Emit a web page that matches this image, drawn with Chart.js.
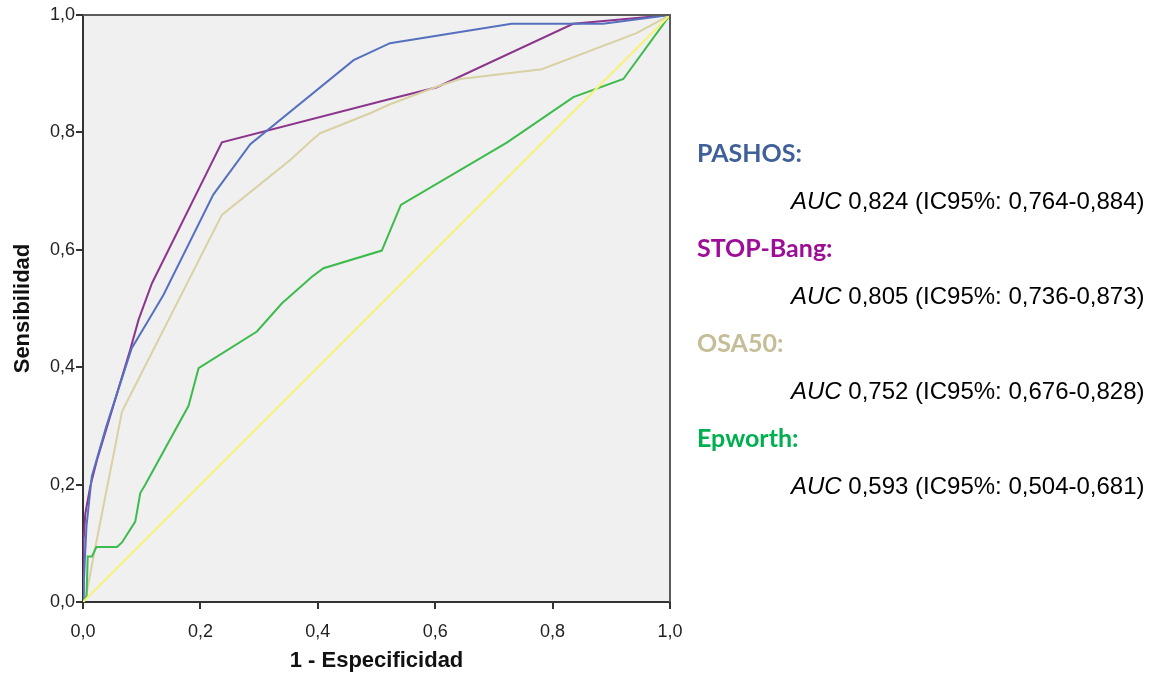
<!DOCTYPE html>
<html>
<head>
<meta charset="utf-8">
<script src="https://cdn.jsdelivr.net/npm/chart.js@4/dist/chart.umd.min.js"></script>
<style>
    html, body { margin: 0; padding: 0; background: #fff; }
    #wrap { position: relative; width: 1153px; height: 674px; }
    #roc { position: absolute; left: 0; top: 0; }
    .lbl { position: absolute; white-space: nowrap; line-height: 1; }
    .cat { font-family: Lato, "Noto Sans", sans-serif; font-weight: bold; font-size: 25px; }
    .auc { font-family: "Liberation Sans", Arial, sans-serif; font-size: 24px; color: #000; }
</style>
</head>
<body>
<div id="wrap">
    <canvas id="roc" width="1153" height="674"></canvas>
    <div class="lbl cat" style="left:697px; top:140px; color:#3f6098">PASHOS:</div>
    <div class="lbl auc" style="left:791px; top:189px"><i>AUC</i> 0,824 (IC95%: 0,764-0,884)</div>
    <div class="lbl cat" style="left:697px; top:235px; color:#9c0e98">STOP-Bang:</div>
    <div class="lbl auc" style="left:791px; top:284px"><i>AUC</i> 0,805 (IC95%: 0,736-0,873)</div>
    <div class="lbl cat" style="left:697px; top:330px; color:#c4bd97">OSA50:</div>
    <div class="lbl auc" style="left:791px; top:379px"><i>AUC</i> 0,752 (IC95%: 0,676-0,828)</div>
    <div class="lbl cat" style="left:697px; top:425px; color:#00b050">Epworth:</div>
    <div class="lbl auc" style="left:791px; top:474px"><i>AUC</i> 0,593 (IC95%: 0,504-0,681)</div>
</div>
<script>
// curvas ROC (1 - especificidad, sensibilidad)
const pashosX = [0, 0.003, 0.006, 0.015, 0.04, 0.083, 0.112, 0.137, 0.222, 0.285, 0.461, 0.523, 0.730, 0.886, 1];
const pashosY = [0, 0.07, 0.13, 0.214, 0.30, 0.4325, 0.481, 0.523, 0.694, 0.780, 0.923, 0.952, 0.985, 0.985, 1];

const stopX = [0, 0.001, 0.004, 0.0124, 0.0238, 0.0805, 0.0947, 0.1175, 0.2366, 0.523, 0.603, 0.835, 1];
const stopY = [0, 0.106, 0.151, 0.197, 0.242, 0.43, 0.481, 0.543, 0.783, 0.857, 0.877, 0.985, 1];

const osaX = [0, 0.004, 0.018, 0.0664, 0.2366, 0.353, 0.387, 0.404, 0.489, 0.523, 0.60, 0.6425, 0.7815, 0.943, 1];
const osaY = [0, 0.004, 0.078, 0.3245, 0.6595, 0.753, 0.784, 0.7986, 0.8326, 0.848, 0.877, 0.891, 0.9075, 0.969, 1];

const epX = [0, 0.006, 0.008, 0.0153, 0.0227, 0.0579, 0.0664, 0.089, 0.0976, 0.106, 0.1798, 0.1969, 0.2963, 0.339, 0.390, 0.4097, 0.509, 0.5415, 0.722, 0.8354, 0.9205, 1];
const epY = [0, 0.01, 0.0777, 0.0777, 0.0936, 0.0936, 0.1015, 0.137, 0.1856, 0.1997, 0.3342, 0.3984, 0.4608, 0.509, 0.554, 0.5687, 0.5987, 0.6765, 0.7826, 0.86, 0.891, 1];

const refX = [0, 1];
const refY = [0, 1];

const axisTicks = [0, 0.2, 0.4, 0.6, 0.8, 1.0];

function puntos(xs, ys) {
    return xs.map((x, i) => ({ x: x, y: ys[i] }));
}

function serie(xs, ys, color) {
    return {
        data: puntos(xs, ys),
        borderColor: color,
        borderWidth: 2,
        pointRadius: 0,
        tension: 0,
        fill: false
    };
}

const fondo = {
    id: 'fondo',
    beforeDraw(chart) {
        const { ctx, chartArea: a } = chart;
        ctx.save();
        ctx.fillStyle = '#f0f0f0';
        ctx.fillRect(a.left, a.top, a.right - a.left, a.bottom - a.top);
        ctx.restore();
    },
    afterDatasetsDraw(chart) {
        const { ctx, chartArea: a } = chart;
        ctx.save();
        ctx.strokeStyle = '#5a5a5a';
        ctx.lineWidth = 2;
        ctx.beginPath();
        ctx.moveTo(a.left, a.top);
        ctx.lineTo(a.right, a.top);
        ctx.lineTo(a.right, a.bottom);
        ctx.stroke();
        ctx.restore();
    }
};

const coma = v => v.toFixed(1).replace('.', ',');
const tickFont = { family: '"Liberation Sans", Arial, sans-serif', size: 18 };
const titleFont = { family: '"Liberation Sans", Arial, sans-serif', size: 22, weight: 'bold' };

new Chart(document.getElementById('roc'), {
    type: 'line',
    data: {
        datasets: [
            serie(refX, refY, '#f6f27a'),
            serie(epX, epY, '#3dbb4c'),
            serie(osaX, osaY, '#d8d1a4'),
            serie(pashosX, pashosY, '#5670c0'),
            serie(stopX, stopY, '#8c358c')
        ]
    },
    options: {
        responsive: false,
        animation: false,
        layout: { padding: { top: 15, right: 483, left: 0, bottom: 0 } },
        plugins: { legend: { display: false }, tooltip: { enabled: false } },
        scales: {
            x: {
                type: 'linear',
                min: 0,
                max: 1,
                afterFit: s => { s.height = 72; },
                afterBuildTicks: s => { s.ticks = axisTicks.map(v => ({ value: v })); },
                ticks: { callback: coma, color: '#222', font: tickFont, padding: 12, maxRotation: 0 },
                grid: { drawOnChartArea: false, drawTicks: true, tickLength: 7, color: '#333', lineWidth: 2 },
                border: { display: true, color: '#333', width: 2 },
                title: { display: true, text: '1 - Especificidad', color: '#111', font: titleFont, padding: { top: 0, bottom: 0 } }
            },
            y: {
                type: 'linear',
                min: 0,
                max: 1,
                afterFit: s => { s.width = 83; },
                afterBuildTicks: s => { s.ticks = axisTicks.map(v => ({ value: v })); },
                ticks: { callback: coma, color: '#222', font: tickFont, padding: 1 },
                grid: { drawOnChartArea: false, drawTicks: true, tickLength: 7, color: '#333', lineWidth: 2 },
                border: { display: true, color: '#333', width: 2 },
                title: { display: true, text: 'Sensibilidad', color: '#111', font: titleFont, padding: { top: 10, bottom: 0 } }
            }
        }
    },
    plugins: [fondo]
});
</script>
</body>
</html>
